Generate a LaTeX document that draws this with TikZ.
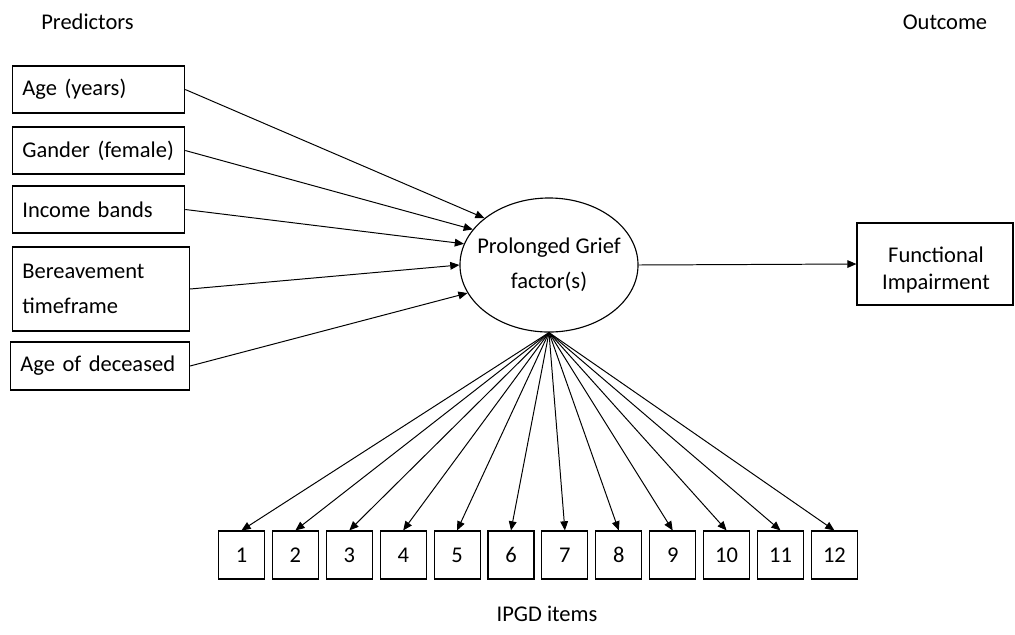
\documentclass[tikz,border=0pt]{standalone}
\usepackage{fontspec}
\setmainfont{Carlito}
\usetikzlibrary{arrows.meta,shapes.geometric,positioning}
\begin{document}
\begin{tikzpicture}[x=0.025cm, y=-0.025cm,
    every node/.style = {font=\fontsize{16}{19.2}\selectfont},
    predbox/.style = {draw, line width=0.8pt, anchor=west, align=left,
    inner xsep=7pt, minimum height=1.175cm},
    itembox/.style = {draw, line width=0.8pt, minimum width=1.15cm,
    minimum height=1.2cm, inner sep=0pt},
    link/.style = {-{Triangle[length=6.5pt,width=5.5pt]}, line width=0.7pt}]
  \useasboundingbox (0,0) rectangle (1015,634);
    \node[anchor=base] (predlabel) at (87.5,29.5) {Predictors};
    \node[anchor=base] (outlabel) at (945,29.5) {Outcome};
    \node[anchor=base] (itemlabel) at (547,621) {IPGD items};
    \node[predbox, text width=3.81cm] (age) at (12,89.5) {Age (years)};
    \node[predbox, text width=3.81cm] (gender) at (12,150.5) {Gander (female)};
    \node[predbox, text width=3.81cm] (income) at (12,209.5) {Income bands};
    \node[predbox, text width=3.93cm, minimum height=2.1cm] (bereave) at (12,289)
      {Bereavement\\[5.7pt]timeframe};
    \node[predbox, text width=3.98cm, minimum height=1.2cm] (deceased) at (10,366)
      {Age of deceased};
    \node[ellipse, draw, line width=0.8pt, minimum width=4.45cm, minimum height=3.35cm,
      inner sep=0pt] (pg) at (549,265) {};
    \node[align=center] (pgtext) at (pg.center) {Prolonged Grief\\[5.7pt]factor(s)};
    \node[draw, line width=0.8pt, minimum width=3.9cm, minimum height=2.05cm] (fi)
      at (935,264) {};
    \node[align=center] (fitext) at (936,270) {Functional\\Impairment};
    \foreach \i in {1,...,12}
      \node[itembox] (item\i) at ({241.5+53.9*(\i-1)},555) {\i};
    \path[link] (age.east) edge (pg.144);
    \path[link] (gender.east) edge (pg.155);
    \path[link] (income.east) edge (pg.166);
    \path[link] (bereave.east) edge (pg.180);
    \path[link] (deceased.east) edge (pg.199);
    \path[link] (pg.east) edge (fi.west);
    \foreach \i in {1,...,12}
      \path[link] (pg.south) edge (item\i.north);
  \end{tikzpicture}
\end{document}
